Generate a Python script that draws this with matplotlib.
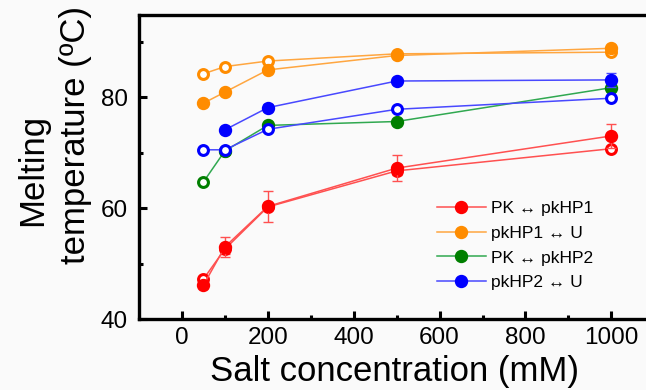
import matplotlib
matplotlib.use("Agg")
import matplotlib.pyplot as plt
from matplotlib.ticker import MultipleLocator

plt.rcParams['font.family'] = ['Liberation Sans', 'DejaVu Sans']

salt = [50, 100, 200, 500, 1000]

# PK <-> pkHP1
red_filled = [46.1, 53.0, 60.3, 67.2, 73.0]
red_filled_err = [0.5, 1.8, 2.8, 2.3, 2.2]
red_open = [47.2, 52.6, 60.2, 66.7, 70.7]
red_open_err = [0.4, 0.8, 0.5, 0.8, 0.5]

# pkHP1 <-> U
orange_filled = [78.9, 80.9, 84.9, 87.5, 88.8]
orange_open = [84.2, 85.5, 86.5, 87.8, 88.1]

# PK <-> pkHP2
green_vals = [64.7, 70.3, 74.9, 75.6, 81.7]

# pkHP2 <-> U
blue_filled_x = [100, 200, 500, 1000]
blue_filled = [74.1, 78.1, 82.9, 83.1]
blue_filled_err = [0.3, 0.6, 0.3, 1.3]
blue_open = [70.5, 70.5, 74.2, 77.8, 79.8]

labels = ['PK \u2194 pkHP1', 'pkHP1 \u2194 U', 'PK \u2194 pkHP2', 'pkHP2 \u2194 U']
colors = ['#ff0000', '#ff8c00', '#007f00', '#0000ff']
line_colors = ['#ff5050', '#ffa640', '#30a850', '#4848ff']

bg = '#fafafa'
fig = plt.figure(figsize=(6.46, 3.9), dpi=100, facecolor=bg)
ax = fig.add_axes([139/646, 71/390, 511/646, 304/390], facecolor=bg)

ms = 8.6
mew = 2.2

def open_line(x, y, c, lc, err=None):
  if err is not None:
    ax.errorbar(x, y, yerr=err, fmt='none', ecolor=lc, elinewidth=1, capsize=3.5, capthick=1)
  ax.plot(x, y, '-', color=lc, lw=1.1, marker='o', ms=ms - 1.5, mfc='white', mec=c, mew=mew)

def filled_line(x, y, c, lc, err=None, label=None):
  if err is not None:
    ax.errorbar(x, y, yerr=err, fmt='none', ecolor=lc, elinewidth=1, capsize=3.5, capthick=1)
  ax.plot(x, y, '-', color=lc, lw=1.1, marker='o', ms=ms, mfc=c, mec=c, label=label)

open_line(salt, red_open, colors[0], line_colors[0], red_open_err)
filled_line(salt, red_filled, colors[0], line_colors[0], red_filled_err, labels[0])

open_line(salt, orange_open, colors[1], line_colors[1])
filled_line(salt, orange_filled, colors[1], line_colors[1], None, labels[1])

open_line(salt[:2], green_vals[:2], colors[2], line_colors[2])
filled_line(salt[1:], green_vals[1:], colors[2], line_colors[2], None, labels[2])

open_line(salt, blue_open, colors[3], line_colors[3])
filled_line(blue_filled_x, blue_filled, colors[3], line_colors[3], blue_filled_err, labels[3])

ax.set_xlim(-100, 1090)
ax.set_ylim(40, 94.8)
ax.xaxis.set_major_locator(MultipleLocator(200))
ax.xaxis.set_minor_locator(MultipleLocator(100))
ax.yaxis.set_major_locator(MultipleLocator(20))
ax.yaxis.set_minor_locator(MultipleLocator(10))
ax.tick_params(which='both', direction='in', width=2.2, labelsize=17.5, pad=6)
ax.tick_params(which='major', length=6)
ax.tick_params(which='minor', length=3)
ax.tick_params(axis='y', pad=8)
for s in ax.spines.values():
  s.set_linewidth(2.4)

ax.set_xlabel('Salt concentration (mM)', fontsize=25)
ax.xaxis.set_label_coords((395 - 139)/511, -(372 - 319)/304)
ax.xaxis.label.set_va('center')
fig.text(33/646, 1 - 170/390, 'Melting', rotation=90, fontsize=25, ha='center', va='center')
fig.text(75/646, 1 - 135/390, 'temperature (\u00baC)', rotation=90, fontsize=25, ha='center', va='center')

ax.legend(loc='upper left', bbox_to_anchor=(437/646, 1 - 201/390), bbox_transform=fig.transFigure,
          frameon=False, fontsize=12.5, handlelength=2.8, handletextpad=0.3, labelspacing=0.55,
          borderpad=0, borderaxespad=0)

fig.savefig('out.png', dpi=100, facecolor=bg)
